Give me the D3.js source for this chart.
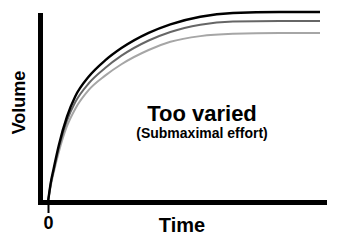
<!DOCTYPE html>
<html>
<head>
<meta charset="utf-8">
<script src="https://cdn.jsdelivr.net/npm/d3@7"></script>
<style>
  body { margin: 0; background: #fff; }
  svg { display: block; }
  text { font-family: "Liberation Sans", Arial, sans-serif; font-weight: bold; fill: #000; }
</style>
</head>
<body>
<svg id="chart"></svg>
<script>
// data (time and volume in arbitrary units 0..100)
var time = [0, 1, 2, 4, 7, 10, 15, 21, 27, 37, 45, 56, 68, 85, 100];
var volumeBlack = [0, 10, 17, 30, 45, 55.5, 66, 74.5, 81, 89, 93.5, 97.5, 99.5, 100, 100];
var volumeDark = [0, 9.5, 16, 28.5, 43, 52.5, 62.5, 70.5, 77, 85, 89.5, 93.3, 95, 95.3, 95.3];
var volumeLight = [0, 8.5, 15, 26.5, 40, 49, 59, 66.5, 72.5, 80, 84.3, 87.3, 88.5, 88.9, 88.9];
var xTicks = [0];

var series = [
  {values: volumeLight, color: "#a6a6a6", width: 2},
  {values: volumeDark, color: "#666", width: 2},
  {values: volumeBlack, color: "#000", width: 2.4}
];

var width = 350, height = 244;

var x = d3.scaleLinear().domain([0, 100]).range([48, 320]);
var y = d3.scaleLinear().domain([0, 100]).range([202, 12]);

var svg = d3.select("#chart")
  .attr("width", width)
  .attr("height", height);

// curves
var line = d3.line()
  .x(function(d, i){ return x(time[i]); })
  .y(function(d){ return y(d); })
  .curve(d3.curveMonotoneX);

svg.selectAll("path.curve")
  .data(series)
  .enter().append("path")
  .attr("class", "curve")
  .attr("d", function(s){ return line(s.values); })
  .attr("fill", "none")
  .attr("stroke", function(s){ return s.color; })
  .attr("stroke-width", function(s){ return s.width; });

// axes
var xAxis = d3.axisBottom(x)
  .tickValues(xTicks)
  .tickSize(9)
  .tickPadding(3)
  .tickFormat(d3.format("d"));

var gx = svg.append("g")
  .attr("transform", "translate(0,204)")
  .call(xAxis);
gx.select(".domain").remove();
gx.selectAll(".tick line").attr("stroke", "#000").attr("stroke-width", 2);
gx.selectAll(".tick text")
  .style("font-size", "18px")
  .style("font-family", "'Liberation Sans', Arial, sans-serif")
  .style("font-weight", "bold")
  .attr("fill", "#000");

svg.append("line")
  .attr("x1", 40.5).attr("x2", 40.5)
  .attr("y1", 13).attr("y2", 205)
  .attr("stroke", "#000").attr("stroke-width", 5);

svg.append("line")
  .attr("x1", 38).attr("x2", 327)
  .attr("y1", 202.5).attr("y2", 202.5)
  .attr("stroke", "#000").attr("stroke-width", 5);

// labels
svg.append("text")
  .attr("x", 182).attr("y", 232)
  .attr("text-anchor", "middle")
  .style("font-size", "20px")
  .text("Time");

svg.append("text")
  .attr("transform", "translate(25,102.5) rotate(-90)")
  .attr("text-anchor", "middle")
  .style("font-size", "18px")
  .text("Volume");

svg.append("text")
  .attr("x", 202).attr("y", 121)
  .attr("text-anchor", "middle")
  .style("font-size", "22px")
  .text("Too varied");

svg.append("text")
  .attr("x", 202).attr("y", 138)
  .attr("text-anchor", "middle")
  .style("font-size", "14px")
  .text("(Submaximal effort)");
</script>
</body>
</html>
